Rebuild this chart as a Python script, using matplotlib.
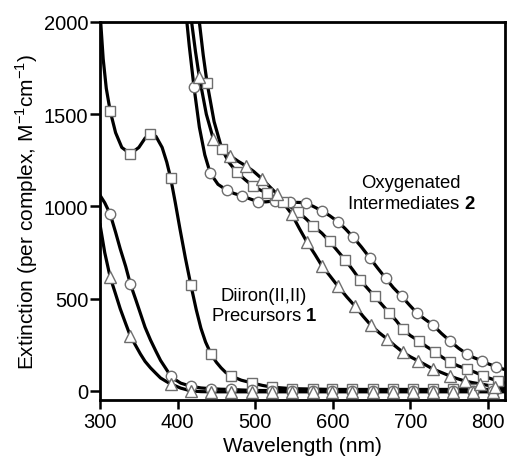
import numpy as np
import matplotlib
matplotlib.use("Agg")
import matplotlib.pyplot as plt

plt.rcParams['font.family'] = ['Liberation Sans', 'DejaVu Sans']
plt.rcParams['mathtext.fontset'] = 'custom'
plt.rcParams['mathtext.rm'] = 'Liberation Sans'
plt.rcParams['mathtext.bf'] = 'Liberation Sans:bold'

# precursors 1
base_wl = [522, 548, 574, 599, 625, 652, 678, 703, 729, 755, 781, 807, 820]

p_sq_wl = [300, 304, 308, 313, 320, 328, 339, 350, 358, 364, 372, 380, 386, 391, 397, 403, 410, 417,
           424, 430, 436, 443, 450, 456, 462, 469, 482, 496, 509] + base_wl
p_sq_ext = [2050, 1800, 1640, 1518, 1400, 1320, 1285, 1320, 1370, 1393, 1380, 1320, 1240, 1154, 1020, 878, 720, 575,
            440, 340, 265, 200, 155, 125, 100, 81, 58, 43, 30, 20, 12, 10, 8, 8, 8, 8, 8, 8, 8, 8, 8, 8]
p_sq_mk = [313, 339, 364, 391, 417, 443, 469, 496, 522, 548, 574, 599, 625, 652, 678, 703, 729, 755, 781, 807]

p_ci_wl = [300, 306, 313, 320, 326, 333, 339, 346, 352, 358, 365, 372, 378, 385, 391, 398, 404, 417,
           430, 443, 456, 469, 482, 496, 509] + base_wl
p_ci_ext = [1060, 1020, 959, 860, 770, 675, 580, 495, 420, 345, 276, 215, 165, 120, 81, 58, 42, 25,
            16, 12, 9, 8, 5, 3, 2, 2, 1, 1, 0, 0, 0, 0, 0, 0, 0, 0, 0, 0]
p_ci_mk = p_sq_mk

p_tr_wl = [300, 306, 313, 320, 326, 333, 339, 346, 352, 358, 365, 372, 378, 385, 391, 404, 417,
           430, 443, 456, 469, 482, 496, 509] + base_wl
p_tr_ext = [900, 750, 617, 525, 445, 365, 298, 245, 200, 160, 125, 95, 70, 52, 38, 15, 0,
            -4, -5, -5, -5, -5, -5, -5, -5, -5, -5, -5, -5, -5, -5, -5, -5, -5, -5, -5, -5]
p_tr_mk = p_sq_mk

# oxygenated intermediates 2
i_ci_wl = [410, 415, 421, 428, 435, 442, 452, 463, 473, 483, 494, 504, 514, 525, 535, 545, 555, 565, 575,
           586, 596, 607, 616, 626, 637, 648, 658, 668, 678, 689, 699, 709, 719, 729, 740, 751, 762, 773,
           782, 792, 801, 811, 820]
i_ci_ext = [2080, 1870, 1650, 1430, 1280, 1181, 1120, 1089, 1070, 1057, 1040, 1025, 1025, 1030, 1028, 1022,
            1022, 1020, 1000, 976, 950, 916, 880, 835, 780, 720, 665, 612, 560, 512, 465, 420, 388, 358,
            312, 271, 232, 200, 180, 163, 146, 130, 118]
i_ci_mk = [421, 442, 463, 483, 504, 525, 545, 565, 586, 607, 626, 648, 668, 689, 709, 729, 751, 773, 792, 811]

i_sq_wl = [425, 428, 433, 438, 447, 457, 466, 476, 487, 497, 506, 515, 525, 536, 545, 555, 565, 575, 586,
           596, 606, 616, 626, 635, 645, 654, 664, 673, 682, 690, 700, 711, 721, 732, 741, 751, 762, 773,
           784, 794, 804, 813, 820]
i_sq_ext = [2100, 2000, 1820, 1669, 1460, 1312, 1240, 1187, 1145, 1111, 1090, 1073, 1050, 1024, 1000, 970,
            935, 894, 855, 810, 760, 710, 655, 602, 555, 512, 465, 422, 380, 336, 300, 271, 240, 211, 183,
            157, 135, 119, 100, 81, 66, 54, 45]
i_sq_mk = [438, 457, 476, 497, 515, 536, 555, 575, 596, 616, 635, 654, 673, 690, 711, 732, 751, 773, 794, 813]

i_tr_wl = [415, 418, 423, 428, 437, 446, 457, 468, 478, 488, 498, 509, 518, 528, 537, 547, 557, 567, 577,
           586, 597, 607, 618, 629, 639, 649, 660, 670, 680, 690, 700, 710, 720, 729, 740, 751, 760, 770,
           780, 790, 800, 809, 820]
i_tr_ext = [2100, 2000, 1840, 1700, 1500, 1366, 1310, 1274, 1245, 1220, 1190, 1149, 1110, 1068, 1015, 959,
            880, 805, 740, 678, 620, 566, 510, 458, 405, 357, 315, 282, 245, 211, 185, 163, 140, 119, 100,
            81, 67, 54, 45, 38, 30, 22, 15]
i_tr_mk = [428, 446, 468, 488, 509, 528, 547, 567, 586, 607, 629, 649, 670, 690, 710, 729, 751, 770, 790, 809]

curves = [
    (p_sq_wl, p_sq_ext, p_sq_mk, 's'),
    (p_ci_wl, p_ci_ext, p_ci_mk, 'o'),
    (p_tr_wl, p_tr_ext, p_tr_mk, '^'),
    (i_ci_wl, i_ci_ext, i_ci_mk, 'o'),
    (i_sq_wl, i_sq_ext, i_sq_mk, 's'),
    (i_tr_wl, i_tr_ext, i_tr_mk, '^'),
]

fig = plt.figure(figsize=(5.08, 4.6), dpi=100)
ax = fig.add_axes([0.197, 0.128, 0.797, 0.822])

for wl, ext, mk, m in curves:
    wl = np.array(wl)
    ax.plot(wl, ext, color='black', lw=2.3, zorder=2)
    ax.plot(wl, ext, ls='none', marker=m, markevery=list(np.isin(wl, mk)),
            ms=7.5 if m != '^' else 8, mfc='white', mec='#6e6e6e', mew=1.0, zorder=3)

ax.set_xlim(300, 822)
ax.set_ylim(-50, 2000)
ax.set_xticks([300, 400, 500, 600, 700, 800])
ax.set_yticks([0, 500, 1000, 1500, 2000])

for s in ax.spines.values():
    s.set_linewidth(2.0)
ax.tick_params(axis='y', direction='out', length=7, width=1.8, labelsize=14.5, pad=1.5)
ax.tick_params(axis='x', direction='out', length=6.5, width=1.8, labelsize=14.5, pad=2)

ax.set_xlabel('Wavelength (nm)', fontsize=15, labelpad=4)
ax.set_ylabel('Extinction (per complex, M$^{-1}$cm$^{-1}$)', fontsize=15, labelpad=3)

ax.text(511, 461, 'Diiron(II,II)\nPrecursors $\\mathbf{1}$', fontsize=13.3,
        ha='center', va='center', linespacing=1.25)
ax.text(701, 1073, 'Oxygenated\nIntermediates $\\mathbf{2}$', fontsize=13.3,
        ha='center', va='center', linespacing=1.25)

fig.savefig('out.png', dpi=100)
